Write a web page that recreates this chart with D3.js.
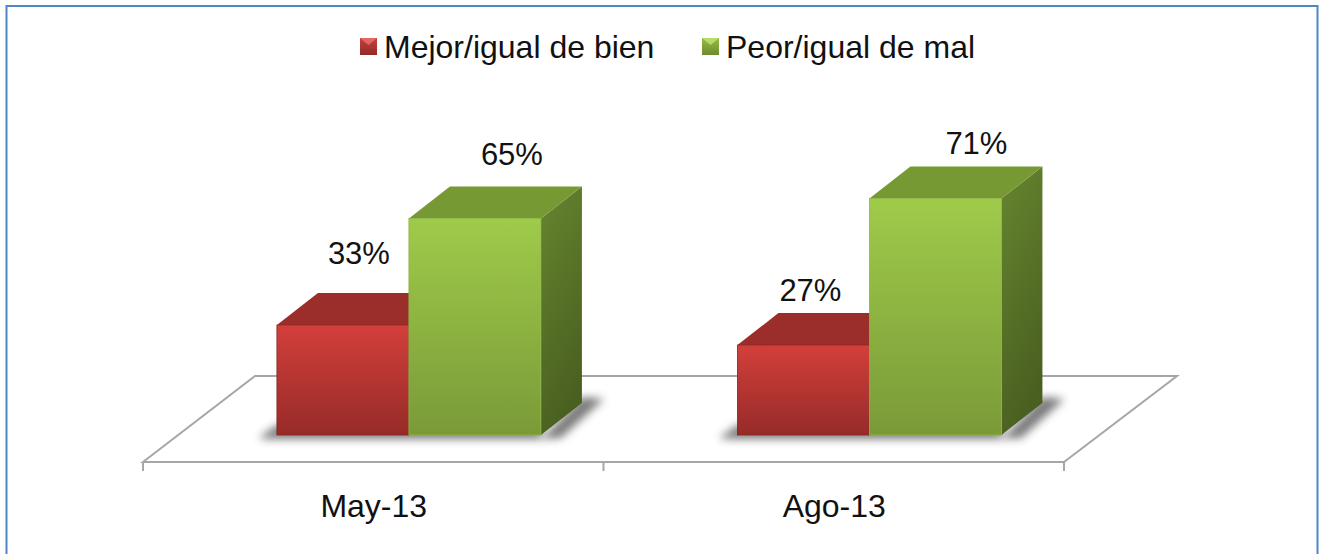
<!DOCTYPE html>
<html>
<head>
<meta charset="utf-8">
<script src="https://cdn.jsdelivr.net/npm/d3@7/dist/d3.min.js"></script>
<style>
html,body{margin:0;padding:0;background:#fff;overflow:hidden}
svg{display:block}
text{font-family:"Liberation Sans",Arial,sans-serif;fill:#111}
</style>
</head>
<body>
<svg id="c" width="1323" height="554"></svg>
<script>
const categories = ["May-13", "Ago-13"];
const seriesNames = ["Mejor/igual de bien", "Peor/igual de mal"];
const mejor = [33, 27];
const peor = [65, 71];

const svg = d3.select("#c");
const W = 1323, H = 554;
const baseY = 435, floorFrontY = 462, floorBackY = 376;
const axisL = 143, axisR = 1064;
const depthX = 41, depthY = 32;
const floorDx = 112;
const fontSize = 32, labelFontSize = 31;
const frontInset = floorDx * (floorFrontY - baseY) / (floorFrontY - floorBackY);

const y = d3.scaleLinear().domain([0, 100]).range([baseY, baseY - 333]);
const xAxis = d3.scaleBand().domain(categories).range([axisL, axisR]);
const xBars = d3.scaleBand().domain(categories).range([axisL + frontInset, axisR + frontInset]);
const mid = xBars.bandwidth() / 2 + 0.5;
const inner = d3.scaleBand().domain(seriesNames).range([mid - 132, mid + 132]);

const defs = svg.append("defs");
function grad(id, c1, c2, x2, y2) {
  const g = defs.append("linearGradient").attr("id", id)
    .attr("x1", 0).attr("y1", 0).attr("x2", x2).attr("y2", y2);
  g.append("stop").attr("offset", "0%").attr("stop-color", c1);
  g.append("stop").attr("offset", "100%").attr("stop-color", c2);
}
grad("rf", "#d33f3b", "#962b28", 0, 1);
grad("gf", "#9fcb4a", "#7a9a38", 0, 1);
grad("gs", "#66852f", "#4a6020", 0.3, 1);
grad("lr", "#c9403c", "#8f2a27", 0, 1);
grad("lg", "#97bd45", "#6c8a30", 0, 1);
const styles = {
  [seriesNames[0]]: { front: "url(#rf)", top: "#9b2d2a", side: "#7a2422", edge: "#7f2624", legend: "url(#lr)", bevel: "#e8706c" },
  [seriesNames[1]]: { front: "url(#gf)", top: "#779933", side: "url(#gs)", edge: "#8fb545", legend: "url(#lg)", bevel: "#bfe070" }
};
const sh = defs.append("filter").attr("id", "blur").attr("x", "-30%").attr("y", "-80%").attr("width", "160%").attr("height", "260%");
sh.append("feGaussianBlur").attr("stdDeviation", 4.5);

// frame
svg.append("rect").attr("x", 0).attr("y", 0).attr("width", W).attr("height", H).attr("fill", "#fff");
svg.append("path").attr("d", `M6.5,${H} V6 H1317.5 V${H}`).attr("fill", "none").attr("stroke", "#4f86c6").attr("stroke-width", 2);

// floor
const floor = svg.append("g").attr("fill", "none").attr("stroke", "#a6a6a6").attr("stroke-width", 2);
floor.append("path").attr("d", `M${axisL},${floorFrontY} L${axisL + floorDx},${floorBackY} H${axisR + floorDx + 1} L${axisR},${floorFrontY} Z`);
[axisL, xAxis(categories[1]), axisR].forEach(t =>
  floor.append("line").attr("x1", t).attr("x2", t).attr("y1", floorFrontY).attr("y2", floorFrontY + 9));

const rows = categories.flatMap((c, i) => [
  { c, s: seriesNames[0], v: mejor[i] },
  { c, s: seriesNames[1], v: peor[i] }
]);

// shadows on the floor
categories.forEach(c => {
  const x0 = xBars(c) + inner(seriesNames[0]);
  const x1 = xBars(c) + inner(seriesNames[1]) + inner.bandwidth();
  const shadow = svg.append("g").attr("fill", "#444").attr("opacity", 0.7).attr("filter", "url(#blur)");
  shadow.append("path")
    .attr("d", `M${x0 - 18},${baseY + 3} L${x0},${baseY - 10} H${x1} V${baseY + 4} H${x0 - 12} Z`);
  shadow.append("path")
    .attr("d", `M${x1},${baseY + 4} L${x1 + depthX},${baseY - depthY - 6} L${x1 + depthX + 22},${baseY - depthY - 4} L${x1 + 20},${baseY + 3} Z`);
});

// bars
const bars = svg.append("g").selectAll("g").data(rows).join("g");
bars.each(function (d) {
  const g = d3.select(this);
  const st = styles[d.s];
  const x = xBars(d.c) + inner(d.s), w = inner.bandwidth(), t = y(d.v);
  g.append("path").attr("d", `M${x + w},${t} l${depthX},${-depthY} V${baseY - depthY} L${x + w},${baseY} Z`)
    .attr("fill", st.side);
  g.append("path").attr("d", `M${x},${t} l${depthX},${-depthY} h${w} l${-depthX},${depthY} Z`)
    .attr("fill", st.top);
  g.append("rect").attr("x", x).attr("y", t).attr("width", w).attr("height", baseY - t)
    .attr("fill", st.front).attr("stroke", st.edge).attr("stroke-width", 0.8);
});

// data labels: placed by hand in the source, so each carries its own offset from the bar's top centre
const labelOffsets = [[16, -61], [37, -54], [7, -44], [41, -45]];
svg.append("g").selectAll("text").data(rows).join("text")
  .attr("x", (d, i) => xBars(d.c) + inner(d.s) + inner.bandwidth() / 2 + labelOffsets[i][0])
  .attr("y", (d, i) => y(d.v) + labelOffsets[i][1])
  .attr("text-anchor", "middle").attr("font-size", labelFontSize).text(d => d.v + "%");

// category labels
svg.append("g").selectAll("text").data(categories).join("text")
  .attr("x", d => xAxis(d) + xAxis.bandwidth() / 2 + 0.5)
  .attr("y", 517).attr("text-anchor", "middle").attr("font-size", fontSize).text(d => d);

// legend
const legendX = d3.scaleOrdinal().domain(seriesNames).range([360, 702]);
const lg = svg.append("g").selectAll("g").data(seriesNames).join("g");
lg.append("rect").attr("x", d => legendX(d)).attr("y", 38).attr("width", 17).attr("height", 17).attr("fill", d => styles[d].legend);
lg.append("path").attr("d", d => `M${legendX(d)},38 h17 l-8.5,7 Z`).attr("fill", d => styles[d].bevel).attr("opacity", 0.85);
lg.append("text").attr("x", d => legendX(d) + 24).attr("y", 58).attr("font-size", fontSize).text(d => d);
</script>
</body>
</html>
